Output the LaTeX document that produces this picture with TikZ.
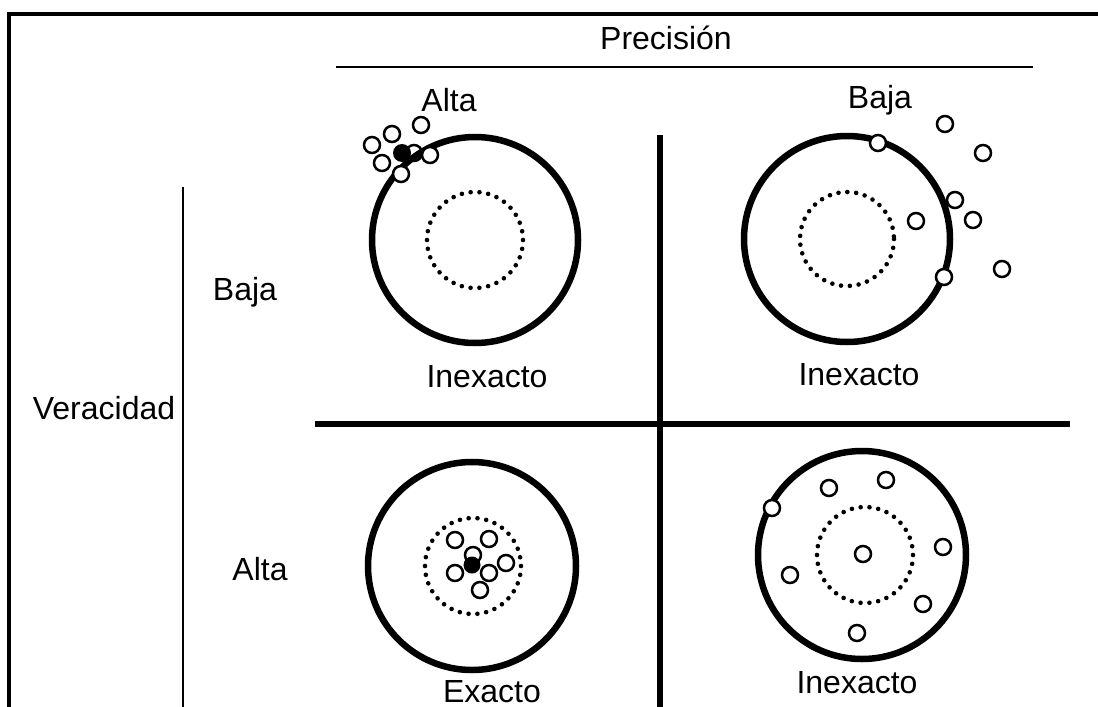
\documentclass[tikz,border=0pt]{standalone}
\usepackage{fontspec}
\setmainfont{Liberation Sans}
\begin{document}
\begin{tikzpicture}[x=1pt,y=-1pt,
  lbl/.style={anchor=base,inner sep=0pt,font=\fontsize{32}{36}\selectfont},
  target/.style={line width=6.5pt},
  bullseye/.style={line width=4.6pt,line cap=round,dash pattern=on 0pt off 8.87pt},
  hit/.style={draw,fill=white,line width=2.5pt},
  hitfull/.style={fill=black},
  divider/.style={line width=6pt},
]
\useasboundingbox (0,0) rectangle (1098,707);

% page frame
\draw[line width=3.5pt] (9,707) -- (9,14) -- (1098,14);

% axis headings
\node[lbl] (prec) at (666,49) {Precisión};
\coordinate (pu1) at (336,67);
\coordinate (pu2) at (1033,67);
\draw[line width=2.6pt] (pu1) -- (pu2);

\node[lbl] (ver) at (104,419) {Veracidad};
\coordinate (va1) at (183,187);
\coordinate (va2) at (183,707);
\draw[line width=2.2pt] (va1) -- (va2);

% row / column labels
\node[lbl] (altaP) at (449,111) {Alta};
\node[lbl] (bajaP) at (880,108) {Baja};
\node[lbl] (bajaV) at (245,300) {Baja};
\node[lbl] (altaV) at (260,580) {Alta};

% quadrant dividers
\coordinate (h1) at (315,424);
\coordinate (h2) at (1070,424);
\coordinate (v1) at (660,135);
\coordinate (v2) at (660,707);
\draw[divider] (h1) -- (h2);
\draw[divider] (v1) -- (v2);

% ---- top left: high precision, low trueness
\draw[target] (475,240) circle (103);
\draw[bullseye] (475,240) circle (48);
\foreach \p in {(421,125),(392,134),(372,145),(430,155),(382,163),(401,174)}
  \draw[hit] \p circle (8);
\fill[hitfull] (402,153) circle (9);
\draw[hit,fill=none] (414,153) circle (8);
\node[lbl] (q1) at (487,387) {Inexacto};

% ---- top right: low precision, low trueness
\draw[target] (847,239) circle (103);
\draw[bullseye] (847,239) circle (47);
\foreach \p in {(878,143),(945,124),(983,153),(955,200),(916,221),(973,220),(944,277),(1002,269)}
  \draw[hit] \p circle (8);
\node[lbl] (q2) at (859,385) {Inexacto};

% ---- bottom left: high precision, high trueness
\draw[target] (472,566) circle (104);
\draw[bullseye] (473,566) circle (48);
\foreach \p in {(455,540),(489,539),(473,555),(455,573),(489,573),(506,563),(480,590)}
  \draw[hit] \p circle (8);
\fill[hitfull] (472,565) circle (8.5);
\node[lbl] (q3) at (492,702) {Exacto};

% ---- bottom right: low precision
\draw[target] (862,555) circle (104);
\draw[bullseye] (865,555) circle (48);
\foreach \p in {(772,508),(829,488),(886,480),(943,547),(863,554),(790,575),(923,604),(857,633)}
  \draw[hit] \p circle (8);
\node[lbl] (q4) at (857,693) {Inexacto};
\end{tikzpicture}
\end{document}
